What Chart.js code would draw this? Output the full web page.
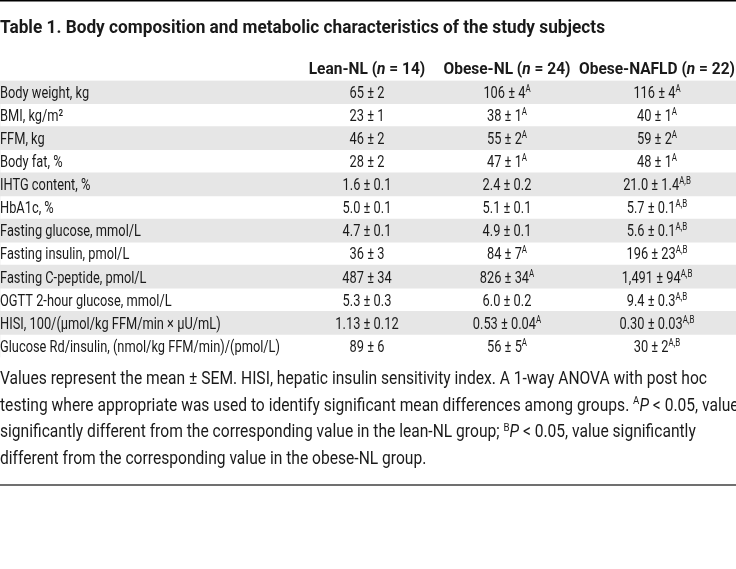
<!DOCTYPE html>
<html><head><meta charset="utf-8">
<script src="https://cdn.jsdelivr.net/npm/chart.js@4.4.0/dist/chart.umd.min.js"></script>
<style>html,body{margin:0;padding:0;background:#fff}</style>
</head><body>
<canvas id="c" width="736" height="569"></canvas>
<script>
// ---------- DATA ----------
const titleText = 'Table 1. Body composition and metabolic characteristics of the study subjects';
const groupNames = ['Lean-NL', 'Obese-NL', 'Obese-NAFLD'];
const groupN = [14, 24, 22];
const rowLabels = [
  'Body weight, kg', 'BMI, kg/m²', 'FFM, kg', 'Body fat, %', 'IHTG content, %', 'HbA1c, %',
  'Fasting glucose, mmol/L', 'Fasting insulin, pmol/L', 'Fasting C-peptide, pmol/L',
  'OGTT 2-hour glucose, mmol/L', 'HISI, 100/(μmol/kg FFM/min × μU/mL)',
  'Glucose Rd/insulin, (nmol/kg FFM/min)/(pmol/L)'
];
const leanMean  = [65, 23, 46, 28, 1.6, 5.0, 4.7, 36, 487, 5.3, 1.13, 89];
const leanSem   = [2, 1, 2, 2, 0.1, 0.1, 0.1, 3, 34, 0.3, 0.12, 6];
const obeseMean = [106, 38, 55, 47, 2.4, 5.1, 4.9, 84, 826, 6.0, 0.53, 56];
const obeseSem  = [4, 1, 2, 1, 0.2, 0.1, 0.1, 7, 34, 0.2, 0.04, 5];
const naflMean  = [116, 40, 59, 48, 21.0, 5.7, 5.6, 196, 1491, 9.4, 0.30, 30];
const naflSem   = [4, 1, 2, 1, 1.4, 0.1, 0.1, 23, 94, 0.3, 0.03, 2];
const decimals  = [0, 0, 0, 0, 1, 1, 1, 0, 0, 1, 2, 0];
const leanSig   = ['', '', '', '', '', '', '', '', '', '', '', ''];
const obeseSig  = ['A', 'A', 'A', 'A', '', '', '', 'A', 'A', '', 'A', 'A'];
const naflSig   = ['A', 'A', 'A', 'A', 'A,B', 'A,B', 'A,B', 'A,B', 'A,B', 'A,B', 'A,B', 'A,B'];
const stripe = rowLabels.map((_, i) => (i % 2 === 0 ? 1 : 0));
const footLines = [
  [{t: 'Values represent the mean ± SEM. HISI, hepatic insulin sensitivity index. A 1-way ANOVA with post hoc'}],
  [{t: 'testing where appropriate was used to identify significant mean differences among groups. '}, {t: 'A', sup: true}, {t: 'P', i: true}, {t: ' < 0.05, value'}],
  [{t: 'significantly different from the corresponding value in the lean-NL group; '}, {t: 'B', sup: true}, {t: 'P', i: true}, {t: ' < 0.05, value significantly'}],
  [{t: 'different from the corresponding value in the obese-NL group.'}]
];

// ---------- STYLE ----------
const FAM = 'Roboto, "Noto Sans", sans-serif';
const TXT = '#1a1a1a';
const TABLE_TOP = 80.5, TABLE_BOTTOM = 357.5;
const COL_X = [367, 507, 657];
const SZ = {title: 18.5, head: 16.5, row: 16.5, foot: 17.5};

function font(size, b, i) { return (i ? 'italic ' : '') + (b ? '700 ' : '400 ') + size + 'px ' + FAM; }
function measureRich(ctx, segs, size, bold) {
  return segs.reduce((a, s) => {
    const sz = s.sup ? size * 0.62 : size;
    ctx.font = font(sz, bold, s.i);
    return a + ctx.measureText(s.t).width;
  }, 0);
}
function drawRich(ctx, segs, x, y, size, bold, align, sx) {
  const total = measureRich(ctx, segs, size, bold) * sx;
  ctx.save();
  ctx.translate(align === 'center' ? x - total / 2 : x, y);
  ctx.scale(sx, 1);
  ctx.textBaseline = 'alphabetic';
  ctx.textAlign = 'left';
  let cx = 0;
  for (const s of segs) {
    const sz = s.sup ? size * 0.62 : size;
    ctx.font = font(sz, bold, s.i);
    ctx.fillText(s.t, cx, s.sup ? -size * 0.36 : 0);
    cx += ctx.measureText(s.t).width;
  }
  ctx.restore();
}
function fmt(v, d) { return v.toLocaleString('en-US', {minimumFractionDigits: d, maximumFractionDigits: d}); }

const tablePlugin = {
  id: 'tableText',
  afterDatasetsDraw(chart) {
    const ctx = chart.ctx, ys = chart.scales.y;
    const sxTitle = 605 / measureRich(ctx, [{t: titleText}], SZ.title, true);
    const sxHead = 156 / measureRich(ctx, [{t: 'Obese-NAFLD ('}, {t: 'n', i: true}, {t: ' = 22)'}], SZ.head, true);
    const sxRow = 280 / measureRich(ctx, [{t: rowLabels[11]}], SZ.row, false);
    const sxFoot = 707 / measureRich(ctx, footLines[0], SZ.foot, false);
    ctx.save();
    ctx.fillStyle = '#000';
    ctx.fillRect(0, 0, 736, 1.5);
    ctx.fillStyle = TXT;
    drawRich(ctx, [{t: titleText}], 0, 33, SZ.title, true, 'left', sxTitle);
    groupNames.forEach((g, k) => {
      drawRich(ctx, [{t: g + ' ('}, {t: 'n', i: true}, {t: ' = ' + groupN[k] + ')'}], COL_X[k], 74, SZ.head, true, 'center', sxHead);
    });
    const means = [leanMean, obeseMean, naflMean], sems = [leanSem, obeseSem, naflSem], sigs = [leanSig, obeseSig, naflSig];
    rowLabels.forEach((lab, r) => {
      const yb = ys.getPixelForValue(r) + 5.8;
      drawRich(ctx, [{t: lab}], 0, yb, SZ.row, false, 'left', sxRow);
      for (let k = 0; k < 3; k++) {
        const segs = [{t: fmt(means[k][r], decimals[r]) + ' ± ' + fmt(sems[k][r], decimals[r])}];
        if (sigs[k][r]) segs.push({t: sigs[k][r], sup: true});
        drawRich(ctx, segs, COL_X[k], yb, SZ.row, false, 'center', sxRow);
      }
    });
    footLines.forEach((segs, j) => drawRich(ctx, segs, 0, 384 + j * 26.7, SZ.foot, false, 'left', sxFoot));
    ctx.fillStyle = '#707070';
    ctx.fillRect(0, 484, 736, 2);
    ctx.restore();
  }
};

new Chart(document.getElementById('c'), {
  type: 'bar',
  data: {labels: rowLabels, datasets: [{data: stripe, backgroundColor: '#e6e6e6', borderWidth: 0, barPercentage: 1, categoryPercentage: 1}]},
  options: {
    indexAxis: 'y', responsive: false, animation: false,
    layout: {padding: {top: TABLE_TOP, bottom: 569 - TABLE_BOTTOM, left: 0, right: 0}},
    scales: {x: {display: false, min: 0, max: 1}, y: {display: false}},
    plugins: {legend: {display: false}, tooltip: {enabled: false}}
  },
  plugins: [tablePlugin]
});
</script>
</body></html>
